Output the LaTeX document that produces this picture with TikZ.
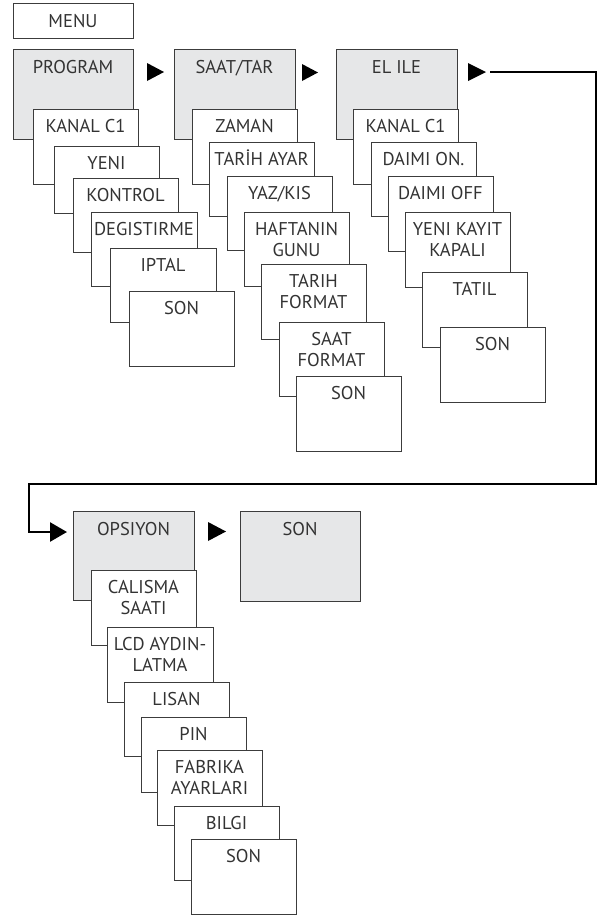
\documentclass[tikz,border=0pt]{standalone}
\usepackage{fontspec}
\setmainfont{PT Sans}
\usetikzlibrary{arrows.meta}
\definecolor{boxgray}{HTML}{E6E7E8}
\definecolor{edge}{HTML}{3C3C3C}
\definecolor{txt}{HTML}{333333}
\tikzset{
 mbox/.style={draw=edge, line width=0.9pt, fill=white, inner sep=0pt, outer sep=0pt},
 gbox/.style={mbox, fill=boxgray},
 lbl/.style={text=txt, font=\fontsize{18.5}{21.7}\selectfont, align=center, inner sep=0pt, anchor=north},
 conn/.style={line width=2.6pt, draw=black, line join=miter},
 tri/.style={fill=black}
}
\newcommand\mbx[8]{%
 \node[#1, anchor=north west, minimum width={(#5-#3)*1pt}, minimum height={(#6-#4)*1pt}] (#2) at (#3,#4) {};
 \node[lbl] (#2-t) at ([yshift=-#7pt]#2.north) {\rule{0pt}{17pt}#8};}
\begin{document}
\begin{tikzpicture}[x=1pt,y=-1pt]
\useasboundingbox (0,0) rectangle (599,919);
% MENU
\mbx{mbox}{menu}{13}{3}{133}{38}{7.5}{MENU}
% PROGRAM column
\mbx{gbox}{prog}{13}{49}{133}{139}{7.5}{PROGRAM}
\mbx{mbox}{p1}{33}{109}{138}{184}{6}{KANAL C1}
\mbx{mbox}{p2}{54}{146}{159}{213}{6}{YENI}
\mbx{mbox}{p3}{73}{178}{178}{252}{6}{KONTROL}
\mbx{mbox}{p4}{91}{212}{197}{286}{6}{DEGISTIRME}
\mbx{mbox}{p5}{110}{248}{216}{322}{6}{IPTAL}
\mbx{mbox}{p6}{129}{291}{234}{366}{6}{SON}
% SAAT/TAR column
\mbx{gbox}{saat}{174}{49}{295}{139}{7.5}{SAAT/TAR}
\mbx{mbox}{s1}{192}{109}{297}{184}{6}{ZAMAN}
\mbx{mbox}{s2}{209}{142}{314}{216}{6}{TARİH AYAR}
\mbx{mbox}{s3}{227}{176}{332}{250}{6}{YAZ/KIS}
\mbx{mbox}{s4}{244}{212}{349}{286}{6}{HAFTANIN\\GUNU}
\mbx{mbox}{s5}{261}{264}{366}{339}{6}{TARIH\\FORMAT}
\mbx{mbox}{s6}{279}{322}{384}{396}{6}{SAAT\\FORMAT}
\mbx{mbox}{s7}{296}{376}{401}{451}{6}{SON}
% EL ILE column
\mbx{gbox}{elile}{336}{49}{457}{139}{7.5}{EL ILE}
\mbx{mbox}{e1}{353}{109}{458}{184}{6}{KANAL C1}
\mbx{mbox}{e2}{371}{142}{476}{216}{6}{DAIMI ON.}
\mbx{mbox}{e3}{388}{176}{493}{251}{6}{DAIMI OFF}
\mbx{mbox}{e4}{405}{212}{510}{287}{6}{YENI KAYIT\\KAPALI}
\mbx{mbox}{e5}{422}{272}{527}{347}{6}{TATIL}
\mbx{mbox}{e6}{440}{327}{545}{402}{6}{SON}
% OPSIYON column
\mbx{gbox}{ops}{73}{511}{194}{600}{7.5}{OPSIYON}
\mbx{gbox}{son}{240}{511}{360}{601}{7.5}{SON}
\mbx{mbox}{o1}{91}{570}{196}{645}{6}{CALISMA\\SAATI}
\mbx{mbox}{o2}{107}{627}{213}{702}{6}{LCD AYDIN-\\LATMA}
\mbx{mbox}{o3}{124}{682}{229}{756}{6}{LISAN}
\mbx{mbox}{o4}{141}{717}{246}{792}{6}{PIN}
\mbx{mbox}{o5}{157}{750}{262}{825}{6}{FABRIKA\\AYARLARI}
\mbx{mbox}{o6}{174}{806}{279}{880}{6}{BILGI}
\mbx{mbox}{o7}{191}{839}{296}{914}{6}{SON}
% triangles
\fill[tri] (147,63) -- (164,72) -- (147,81) -- cycle;
\fill[tri] (302,64) -- (318,72.5) -- (302,81) -- cycle;
\fill[tri] (468,63) -- (486,72) -- (468,81) -- cycle;
\fill[tri] (208,522) -- (226,531.5) -- (208,541) -- cycle;
% connector
\coordinate (cstart) at (490,72);
\coordinate (cend) at (67,532);
\draw[conn, -{Triangle[length=17pt,width=19pt]}] (cstart) -- (596,72) -- (596,484) -- (29,484) -- (29,532) -- (cend);
\end{tikzpicture}
\end{document}
